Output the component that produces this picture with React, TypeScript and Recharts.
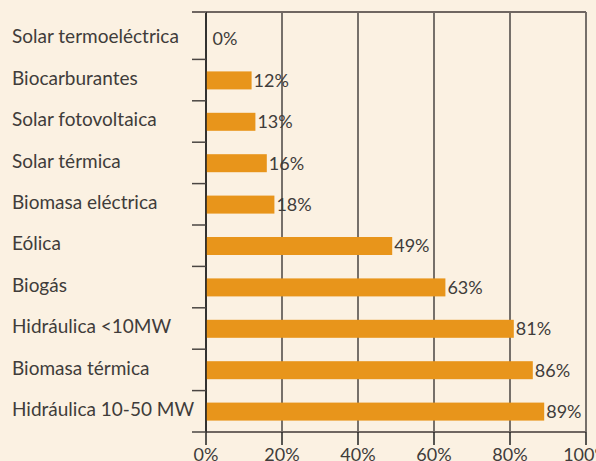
import { BarChart, Bar, XAxis, YAxis, CartesianGrid, LabelList } from "recharts";

const categories = [
  "Solar termoeléctrica",
  "Biocarburantes",
  "Solar fotovoltaica",
  "Solar térmica",
  "Biomasa eléctrica",
  "Eólica",
  "Biogás",
  "Hidráulica <10MW",
  "Biomasa térmica",
  "Hidráulica 10-50 MW",
];

const percentages = [0, 12, 13, 16, 18, 49, 63, 81, 86, 89];

const xTicks = [0, 20, 40, 60, 80, 100];

const data = categories.map((name, i) => ({ name, value: percentages[i] }));

const W = 596;
const H = 461;
const FONT = 'Lato, "Liberation Sans", Arial, sans-serif';
const TEXT = "#403c3a";
const LINE = "#4a4542";
const FRAME = "#6f6661";

// band height of one category row (plot 18..432 / 10 rows)
const BAND = 41.4;

function CategoryTick(props: any) {
  const { x, y, payload } = props;
  const axisX = x + 14;
  const first = payload && payload.value === categories[0];
  return (
    <g>
      {first && (
        <line x1={axisX - 14} x2={axisX} y1={y - BAND / 2 - 6} y2={y - BAND / 2 - 6} stroke={FRAME} strokeWidth={2} />
      )}
      <line x1={axisX - 14} x2={axisX} y1={y + BAND / 2} y2={y + BAND / 2} stroke={LINE} strokeWidth={1.5} />
      <text x={12} y={y} dy="0.25em" textAnchor="start" fill={TEXT} fontSize={19} fontFamily={FONT}>
        {payload.value}
      </text>
    </g>
  );
}

function ValueLabel(props: any) {
  const { x, y, width, height, value } = props;
  const gap = value === 0 ? 6 : 2;
  return (
    <text x={x + width + gap} y={y + height / 2} dy="0.35em" textAnchor="start" fill={TEXT} fontSize={18} fontFamily={FONT}>
      {`${value}%`}
    </text>
  );
}

function BarShape(props: any) {
  const { x, y, width, height, fill } = props;
  if (width < 1) return null;
  return <rect x={x} y={y} width={width} height={height} fill={fill} />;
}

export default function App() {
  return (
    <div style={{ position: "absolute", left: 0, top: 0, width: W, height: H, background: "#fbf1e2", overflow: "hidden" }}>
      <BarChart
        width={W}
        height={H}
        data={data}
        layout="vertical"
        margin={{ top: 12, right: 10, left: 0, bottom: 0 }}
      >
        <CartesianGrid horizontal={false} vertical stroke={LINE} strokeWidth={1.5} />
        <CartesianGrid
          vertical={false}
          horizontal
          horizontalCoordinatesGenerator={(p: any) => [p.offset.top]}
          stroke={FRAME}
          strokeWidth={2}
        />
        <XAxis
          type="number"
          domain={[0, 100]}
          ticks={xTicks}
          tickFormatter={(v) => `${v}%`}
          height={29}
          tickSize={13}
          tickMargin={3}
          axisLine={{ stroke: FRAME, strokeWidth: 2 }}
          tickLine={{ stroke: "#222", strokeWidth: 1.5 }}
          tick={{ fill: TEXT, fontSize: 18, fontFamily: FONT }}
          interval={0}
        />
        <YAxis
          type="category"
          dataKey="name"
          width={206}
          padding={{ top: 6, bottom: 0 }}
          tickLine={false}
          tickSize={14}
          tickMargin={0}
          axisLine={{ stroke: "#1e1e1e", strokeWidth: 1.5 }}
          tick={<CategoryTick />}
          interval={0}
        />
        <Bar dataKey="value" fill="#e8951b" barSize={18} minPointSize={0.5} shape={<BarShape />} isAnimationActive={false}>
          <LabelList dataKey="value" content={<ValueLabel />} />
        </Bar>
      </BarChart>
    </div>
  );
}
